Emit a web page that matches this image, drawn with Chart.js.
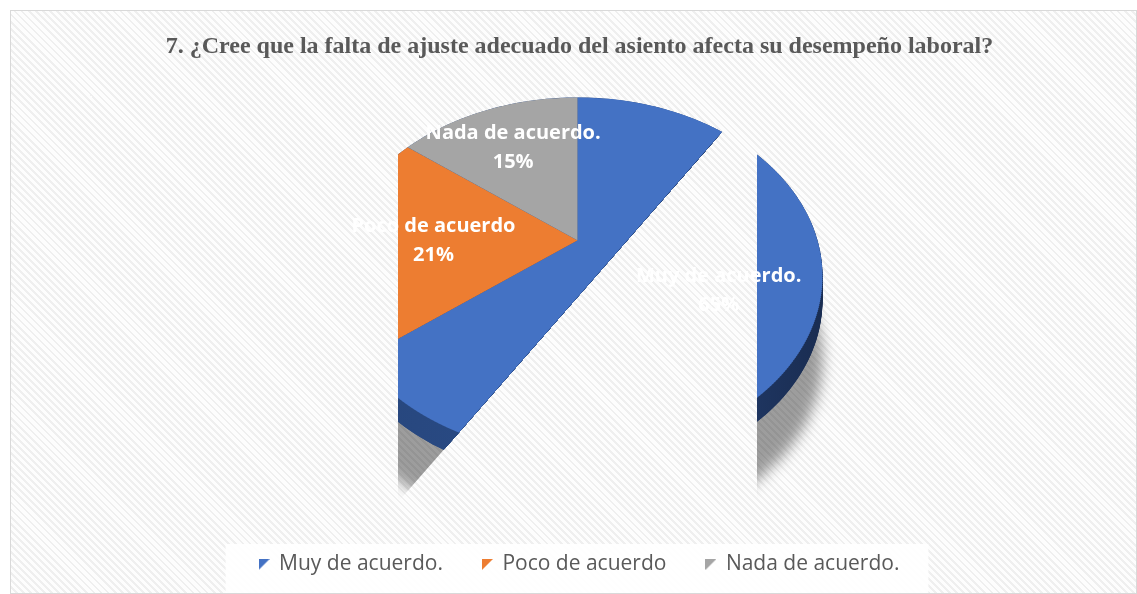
<!DOCTYPE html>
<html>
<head>
<meta charset="utf-8">
<script src="https://cdn.jsdelivr.net/npm/chart.js@4.4.1/dist/chart.umd.min.js"></script>
<style>
  html, body { margin: 0; padding: 0; background: #fff; }
  #frame {
    position: absolute; left: 10px; top: 10px; width: 1125px; height: 582px;
    border: 1px solid #d9d9d9;
    background: repeating-linear-gradient(45deg, #fdfdfd 0px, #fdfdfd 3px, #efefef 3px, #efefef 5px);
  }
  canvas { display: block; }
</style>
</head>
<body>
<div id="frame"><canvas id="chart" width="1125" height="582"></canvas></div>
<script>
// Survey question 7 - answers (n = 48)
const categories = ['Muy de acuerdo.', 'Poco de acuerdo', 'Nada de acuerdo.'];
const responses = [31, 10, 7];
const percentLabels = ['65%', '21%', '15%'];
const sliceColors = ['#4472c4', '#ed7d31', '#a5a5a5'];
const titleText = '7. ¿Cree que la falta de ajuste adecuado del asiento afecta su desempeño laboral?';

// little corner triangles used as legend markers
function cornerMarker(color) {
  const c = document.createElement('canvas');
  c.width = 11; c.height = 11;
  const g = c.getContext('2d');
  g.fillStyle = color;
  g.beginPath(); g.moveTo(0, 0); g.lineTo(11, 0); g.lineTo(0, 11); g.closePath(); g.fill();
  return c;
}
const markers = sliceColors.map(cornerMarker);

// draws the pie as a tilted 3D disc (perspective warp, strip by strip)
const tiltPlugin = {
  id: 'tilt',
  beforeDraw(chart, args, o) {
    const hb = chart.legend.legendHitBoxes;
    if (!hb || !hb.length) return;
    const left = Math.min(...hb.map(b => b.left)) - 34;
    const right = Math.max(...hb.map(b => b.left + b.width)) + 29;
    const top = hb[0].top - 10;
    const ctx = chart.ctx;
    ctx.save();
    ctx.fillStyle = 'rgba(255,255,255,0.9)';
    ctx.fillRect(left, top, right - left, chart.height - top);
    ctx.restore();
  },
  beforeDatasetsDraw(chart, args, o) {
    const ctx = chart.ctx;
    const arcs = chart.getDatasetMeta(0).data;
    const ax = arcs[0].x, ay = arcs[0].y, r = arcs[0].outerRadius;
    const cx = ax + o.shiftX, cy = ay + o.shiftY;
    const R = r, H = r * o.tilt, p = o.perspective;
    const proj = (u, v) => { const s = 1 / (1 - p * v); return [cx + R * u * s, cy + H * v * s]; };

    ctx.save();
    ctx.beginPath();
    o.clip.forEach(([x, y], i) => i ? ctx.lineTo(x, y) : ctx.moveTo(x, y));
    ctx.closePath();
    ctx.clip();

    // side of the disc
    const outline = dy => {
      ctx.beginPath();
      for (let k = 0; k <= 240; k++) {
        const a = k / 240 * 2 * Math.PI;
        const [x, y] = proj(Math.cos(a), Math.sin(a));
        k ? ctx.lineTo(x, y + dy) : ctx.moveTo(x, y + dy);
      }
      ctx.closePath();
    };
    const grad = ctx.createLinearGradient(cx - R, 0, cx + R, 0);
    grad.addColorStop(0, '#27467c');
    grad.addColorStop(0.5, '#2a4c88');
    grad.addColorStop(1, '#1a2d52');
    ctx.save();
    ctx.shadowColor = 'rgba(0,0,0,0.38)';
    ctx.shadowBlur = 14;
    ctx.shadowOffsetY = 58;
    ctx.fillStyle = grad;
    outline(o.depth); ctx.fill();
    ctx.restore();
    ctx.fillStyle = grad;
    for (let d = o.depth; d >= 0; d--) { outline(d); ctx.fill(); }

    // top face: library arcs, warped in thin horizontal strips
    const vAt = t => t / (H + p * t);
    const top = Math.floor(cy - H / (1 + p)) - 2;
    const bottom = Math.ceil(cy + H / (1 - p)) + 2;
    for (let y0 = top; y0 < bottom; y0 += 2) {
      const y1 = y0 + 2;
      const v0 = vAt(y0 - cy), v1 = vAt(y1 - cy), vm = (v0 + v1) / 2;
      const a = R / r / (1 - p * vm);
      const d = (y1 - y0) / (r * (v1 - v0));
      ctx.save();
      ctx.beginPath(); ctx.rect(0, y0, chart.width, y1 - y0); ctx.clip();
      ctx.transform(a, 0, 0, d, cx - a * ax, y0 - d * (ay + r * v0));
      arcs.forEach(el => el.draw(ctx));
      ctx.restore();
    }
    ctx.restore();

    // data labels
    ctx.save();
    ctx.fillStyle = '#ffffff';
    ctx.font = 'bold 20px "Open Sans"';
    ctx.textAlign = 'center';
    ctx.textBaseline = 'middle';
    arcs.forEach((el, i) => {
      const mid = (el.startAngle + el.endAngle) / 2;
      const f = o.labelRadius[i];
      const [x, y] = proj(f * Math.cos(mid), f * Math.sin(mid));
      ctx.fillText(categories[i], x, y - 14);
      ctx.fillText(percentLabels[i], x, y + 15);
    });
    ctx.restore();
    return false;
  }
};

new Chart(document.getElementById('chart'), {
  type: 'pie',
  data: {
    labels: categories,
    datasets: [{
      data: responses,
      backgroundColor: sliceColors,
      borderWidth: 0
    }]
  },
  options: {
    responsive: false,
    animation: false,
    radius: 240,
    layout: { padding: { left: 12, bottom: 8 } },
    plugins: {
      title: {
        display: true,
        text: titleText,
        color: '#595959',
        font: { family: 'Liberation Serif', size: 24, weight: 'bold' },
        padding: { top: 21, bottom: 10 }
      },
      legend: {
        position: 'bottom',
        labels: {
          usePointStyle: true,
          pointStyleWidth: 9,
          padding: 40,
          color: '#595959',
          font: { family: 'Open Sans', size: 21 },
          generateLabels(chart) {
            const items = Chart.overrides.doughnut.plugins.legend.labels.generateLabels(chart);
            items.forEach((it, i) => { it.pointStyle = markers[i]; });
            return items;
          }
        }
      },
      tooltip: { enabled: false },
      tilt: {
        shiftX: -2,
        shiftY: -52,
        tilt: 0.715,
        perspective: 0.2,
        depth: 24,
        labelRadius: [0.62, 0.6, 0.68],
        clip: [[387, 0], [1125, 0], [1125, 491], [746, 491], [746, 81], [387, 491]]
      }
    }
  },
  plugins: [tiltPlugin]
});
</script>
</body>
</html>
